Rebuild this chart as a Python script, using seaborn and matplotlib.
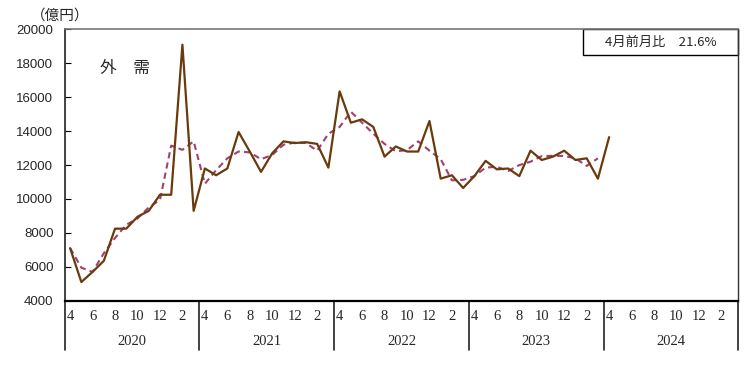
import matplotlib
matplotlib.use("Agg")
import matplotlib.pyplot as plt
import matplotlib.transforms as mtransforms
from matplotlib.patches import Rectangle
import seaborn as sns
import pandas as pd
import numpy as np

# monthly values, Apr 2020 .. Apr 2024 (100 million yen)
actual = [7100, 5100, 5700, 6350, 8250, 8250, 8950, 9300, 10250, 10250, 19100, 9300,
          11800, 11400, 11800, 13950, 12800, 11600, 12700, 13400, 13300, 13350, 13250, 11850,
          16350, 14500, 14700, 14250, 12500, 13100, 12800, 12800, 14600, 11200, 11400, 10650,
          11350, 12250, 11750, 11800, 11350, 12850, 12300, 12500, 12850, 12300, 12400, 11200,
          13650]
# dashed trend line, Apr 2020 .. Mar 2024
trend = [7100, 5950, 5700, 6800, 7700, 8480, 8850, 9500, 9950, 13150, 12900, 13400,
         10900, 11700, 12400, 12800, 12750, 12350, 12600, 13200, 13330, 13300, 12850, 13850,
         14250, 15150, 14500, 13850, 13250, 12820, 12880, 13400, 12850, 12350, 11100, 11130,
         11350, 11850, 11900, 11650, 12000, 12200, 12530, 12550, 12540, 12400, 11950, 12400]
month_labels = ["4", "6", "8", "10", "12", "2"]
years = ["2020", "2021", "2022", "2023", "2024"]
y_ticks = [4000, 6000, 8000, 10000, 12000, 14000, 16000, 18000, 20000]

sns.set_style("white")
plt.rcParams["font.family"] = ["Liberation Serif", "DejaVu Sans"]
jp_font = ["Noto Sans CJK JP", "DejaVu Sans"]

df_actual = pd.DataFrame({"m": np.arange(len(actual)), "v": actual})
df_trend = pd.DataFrame({"m": np.arange(len(trend)), "v": trend})

fig = plt.figure(figsize=(7.44, 3.79), dpi=100)
ax = fig.add_axes([0.0867, 0.2066, 0.9056, 0.7156])

sns.lineplot(data=df_trend, x="m", y="v", ax=ax, color="#A2406F", linewidth=1.5,
             dashes=False, linestyle=(0, (3, 2)))
sns.lineplot(data=df_actual, x="m", y="v", ax=ax, color="#6B3A0C", linewidth=1.6)

n_months = 12 * len(years)
ax.set_xlim(-0.5, n_months - 0.5)
ax.set_ylim(4000, 20000)
ax.set_yticks(y_ticks)
ax.set_yticklabels([str(t) for t in y_ticks], family=["Liberation Sans"], fontsize=9.5)
ax.set_xticks([])
ax.set_xticks(np.arange(n_months + 1) - 0.5, minor=True)
ax.tick_params(axis="x", which="minor", direction="in", length=3, width=0.8, color="black")
ax.tick_params(axis="y", direction="in", length=4, width=0.8, color="black", pad=8, left=True)
ax.set_xlabel("")
ax.set_ylabel("")

ax.spines["bottom"].set_linewidth(1.6)
ax.spines["bottom"].set_color("black")
ax.spines["left"].set_color("#222222")
ax.spines["left"].set_linewidth(1.2)
ax.spines["top"].set_color("#777777")
ax.spines["top"].set_linewidth(1.2)
ax.spines["right"].set_color("#333333")
ax.spines["right"].set_linewidth(1.0)

# month and year labels under the axis
trans = mtransforms.blended_transform_factory(ax.transData, ax.transAxes)
for k, yr in enumerate(years):
    for j, lab in enumerate(month_labels):
        ax.text(12 * k + 2 * j, -0.06, lab, transform=trans, ha="center", va="center",
                fontsize=10.5)
    ax.text(12 * k + 5.5, -0.152, yr, transform=trans, ha="center", va="center", fontsize=10.5)
for k in range(len(years) + 1):
    ax.plot([12 * k - 0.5, 12 * k - 0.5], [0, -0.182], transform=trans, color="#222222",
            linewidth=1.2, clip_on=False)

# annotations
fig.text(60 / 744, 1 - 16 / 379, "（億円）", family=jp_font, fontsize=10.5,
         ha="center", va="center")
ax.text(0.052, 0.858, "外　需", transform=ax.transAxes, family=jp_font, fontsize=12,
        ha="left", va="center")
box_left = (582.7 - 64.5) / 673.8
ax.add_patch(Rectangle((box_left, 0.906), 1 - box_left, 0.094, transform=ax.transAxes,
                       fill=False, edgecolor="black", linewidth=1.0, clip_on=False))
ax.text((box_left + 1) / 2, 0.953, "4月前月比　21.6%", transform=ax.transAxes,
        family=jp_font, fontsize=9.5, ha="center", va="center")

fig.savefig("out.png", dpi=100, facecolor="white")
